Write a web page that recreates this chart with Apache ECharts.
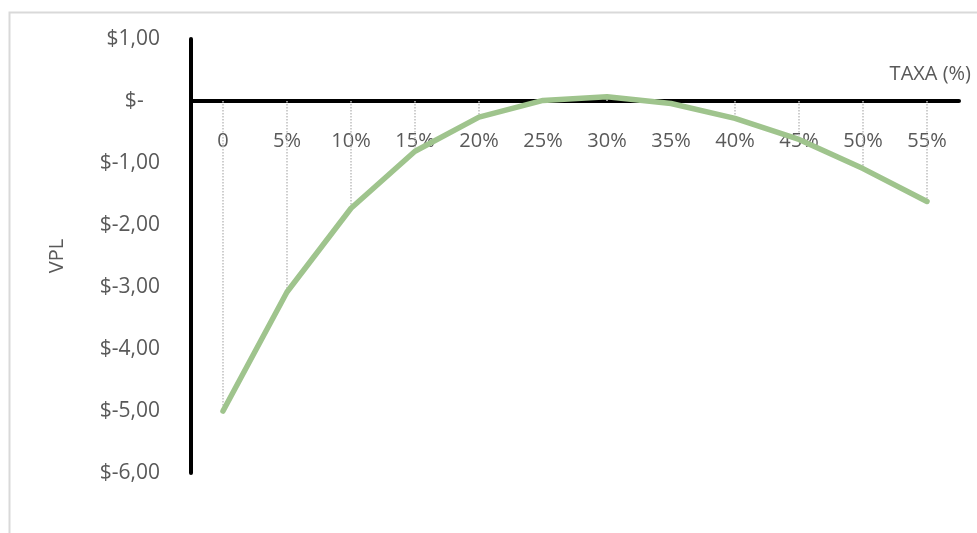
<!DOCTYPE html>
<html>
<head>
<meta charset="utf-8">
<script src="https://cdn.jsdelivr.net/npm/echarts@6/dist/echarts.min.js"></script>
<style>
html,body{margin:0;padding:0;background:#fff;}
#chart{width:977px;height:533px;}
</style>
</head>
<body>
<div id="chart"></div>
<script>
var categories = ['0','5%','10%','15%','20%','25%','30%','35%','40%','45%','50%','55%'];
var vplValues = [-5.00, -3.08, -1.73, -0.81, -0.26, 0.01, 0.07, -0.04, -0.28, -0.62, -1.09, -1.62];
var yTicks = {min: -6, max: 1, interval: 1};
var xName = 'TAXA (%)';
var yName = 'VPL';

function fmt(v){
  if (Math.abs(v) < 1e-9) return '$-   ';
  return '$' + v.toFixed(2).replace('.', ',');
}

var dropLines = vplValues.map(function(v, i){
  return [{coord:[i, 0]}, {coord:[i, v]}];
});

var chart = echarts.init(document.getElementById('chart'));
chart.setOption({
  backgroundColor:'#ffffff',
  animation:false,
  textStyle:{fontFamily:'Open Sans'},
  graphic:[{
    type:'rect', left:7, top:10, silent:true,
    shape:{x:0,y:0,width:990,height:540},
    style:{fill:'none', stroke:'#d9d9d9', lineWidth:2}
  }],
  grid:{left:191, top:39, right:18, bottom:60, containLabel:false},
  xAxis:{
    type:'category',
    data:categories,
    boundaryGap:true,
    name:xName,
    nameLocation:'end',
    nameGap:12,
    nameTextStyle:{color:'#595959', fontSize:20, fontFamily:'Open Sans', align:'right', verticalAlign:'bottom', padding:[0,0,17,0]},
    axisLine:{onZero:true, lineStyle:{color:'#000000', width:4}},
    axisTick:{show:false},
    axisLabel:{color:'#595959', fontSize:20, fontFamily:'Open Sans', margin:-342, interval:0},
    splitLine:{show:false}
  },
  yAxis:{
    type:'value',
    min:yTicks.min, max:yTicks.max, interval:yTicks.interval,
    name:yName,
    nameLocation:'middle',
    nameRotate:90,
    nameGap:124,
    nameTextStyle:{color:'#595959', fontSize:20, fontFamily:'Open Sans'},
    axisLine:{show:true, lineStyle:{color:'#000000', width:4}},
    axisTick:{show:false},
    axisLabel:{color:'#595959', fontSize:21, fontFamily:'Open Sans', margin:31, formatter:fmt},
    splitLine:{show:false}
  },
  series:[{
    type:'line',
    data:vplValues,
    showSymbol:false,
    symbol:'none',
    lineStyle:{color:'#9fc48d', width:5.5, cap:'round', join:'round'},
    itemStyle:{color:'#9fc48d'},
    z:3,
    markLine:{
      silent:true,
      symbol:['none','none'],
      label:{show:false},
      lineStyle:{color:'#bfbfbf', type:'dotted', width:1.5},
      data:dropLines,
      z:1
    }
  }]
});
</script>
</body>
</html>
